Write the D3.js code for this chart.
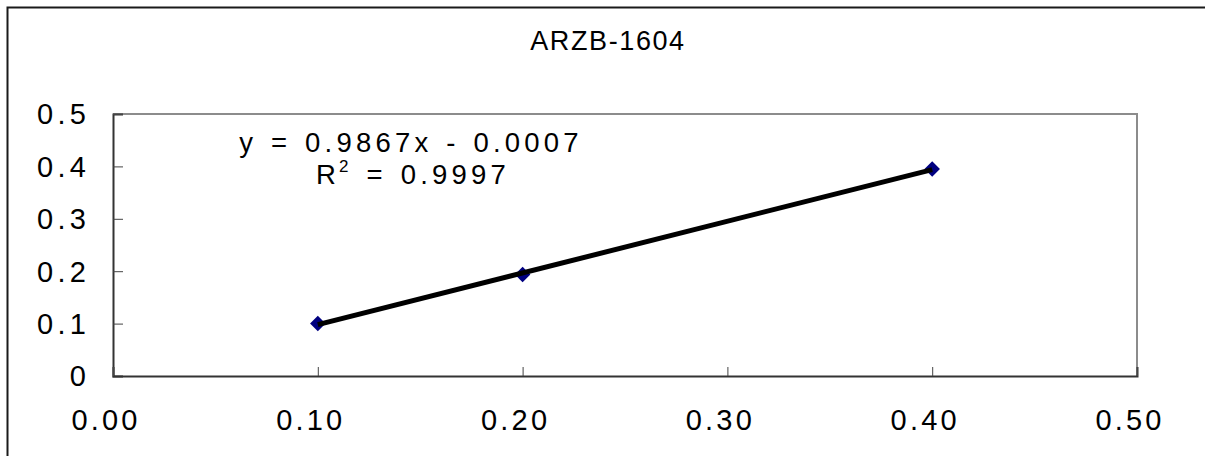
<!DOCTYPE html>
<html>
<head>
<meta charset="utf-8">
<script src="https://cdn.jsdelivr.net/npm/d3@7"></script>
<style>
  html, body { margin: 0; padding: 0; background: #fff; overflow: hidden; }
  svg { display: block; }
  text { font-family: "Liberation Sans", Arial, sans-serif; fill: #000; }
</style>
</head>
<body>
<div id="chart"></div>
<script>
// Calibration points for ARZB-1604
const title = "ARZB-1604";
const xValues = [0.1, 0.2, 0.4];
const yValues = [0.100, 0.1935, 0.3951];

// Linear trendline parameters shown in the equation label
const slope = 0.9867;
const intercept = -0.0007;
const rSquared = 0.9997;

const xTicks = [0, 0.1, 0.2, 0.3, 0.4, 0.5];
const yTicks = [0, 0.1, 0.2, 0.3, 0.4, 0.5];

const W = 1205, H = 456;
const plot = { left: 113, top: 114, right: 1137, bottom: 376 };

const svg = d3.select("#chart").append("svg")
  .attr("width", W).attr("height", H);

// Chart frame (left and top edges fall inside the view)
svg.append("path")
  .attr("d", `M7.5,${H + 10}V7.5H${W + 10}`)
  .attr("fill", "none")
  .attr("stroke", "#1a1a1a")
  .attr("stroke-width", 2);

const x = d3.scaleLinear().domain([0, 0.5]).range([plot.left, plot.right]);
const y = d3.scaleLinear().domain([0, 0.5]).range([plot.bottom, plot.top]);

// Plot area border (top and right in grey)
svg.append("path")
  .attr("d", `M${plot.left},${plot.top}H${plot.right}V${plot.bottom}`)
  .attr("fill", "none")
  .attr("stroke", "#8c8c8c")
  .attr("stroke-width", 2);

// Y axis: ticks pointing inward, labels at left
const yAxis = d3.axisRight(y)
  .tickValues(yTicks)
  .tickSize(10)
  .tickFormat(() => "");
const gy = svg.append("g")
  .attr("transform", `translate(${plot.left},0)`)
  .call(yAxis);
gy.select(".domain").attr("stroke", "#333").attr("stroke-width", 2);
gy.selectAll(".tick line").attr("stroke", "#444").attr("stroke-width", 1);

svg.append("g").selectAll("text")
  .data(yTicks)
  .join("text")
  .attr("x", plot.left - 23)
  .attr("y", d => y(d))
  .attr("dy", "0.36em")
  .attr("text-anchor", "end")
  .style("font-size", "29px")
  .style("letter-spacing", "4.2px")
  .text(d => d === 0 ? "0" : d3.format(".1f")(d));

// X axis: ticks pointing inward, labels below
const xAxis = d3.axisTop(x)
  .tickValues(xTicks)
  .tickSize(9)
  .tickFormat(() => "");
const gx = svg.append("g")
  .attr("transform", `translate(0,${plot.bottom})`)
  .call(xAxis);
gx.select(".domain").attr("stroke", "#333").attr("stroke-width", 2);
gx.selectAll(".tick line").attr("stroke", "#444").attr("stroke-width", 1);

svg.append("g").selectAll("text")
  .data(xTicks)
  .join("text")
  .attr("x", d => x(d) - 7)
  .attr("y", 430)
  .attr("text-anchor", "middle")
  .style("font-size", "29px")
  .style("letter-spacing", "3.2px")
  .text(d => d3.format(".2f")(d));

// Title
svg.append("text")
  .attr("x", 608)
  .attr("y", 50)
  .attr("text-anchor", "middle")
  .style("font-size", "27px")
  .style("letter-spacing", "1.6px")
  .text(title);

// Data markers (diamonds)
const pts = xValues.map((v, i) => ({ x: v, y: yValues[i] }));
svg.append("g").selectAll("path")
  .data(pts)
  .join("path")
  .attr("d", d3.symbol(d3.symbolSquare, 120))
  .attr("transform", d => `translate(${x(d.x)},${y(d.y)}) rotate(45)`)
  .attr("fill", "#000080");

// Trendline over the data range
const xMin = d3.min(xValues), xMax = d3.max(xValues);
const trend = [xMin, xMax].map(v => ({ x: v, y: slope * v + intercept }));
svg.append("path")
  .datum(trend)
  .attr("d", d3.line().x(d => x(d.x)).y(d => y(d.y)))
  .attr("fill", "none")
  .attr("stroke", "#000")
  .attr("stroke-width", 5);

// Equation and R² label
const eqText = `y = ${slope.toFixed(4)}x ${intercept < 0 ? "-" : "+"} ${Math.abs(intercept).toFixed(4)}`;
svg.append("text")
  .attr("x", 411)
  .attr("y", 152)
  .attr("text-anchor", "middle")
  .style("font-size", "27.5px")
  .style("letter-spacing", "4.2px")
  .style("word-spacing", "2px")
  .text(eqText);

const r2 = svg.append("text")
  .attr("x", 413)
  .attr("y", 184)
  .attr("text-anchor", "middle")
  .style("font-size", "27.5px")
  .style("letter-spacing", "4.2px")
  .style("word-spacing", "2px");
r2.append("tspan").text("R");
r2.append("tspan").attr("dy", -12).attr("dx", -1).style("font-size", "17px").text("2");
r2.append("tspan").attr("dy", 12).text(` = ${rSquared.toFixed(4)}`);
</script>
</body>
</html>
